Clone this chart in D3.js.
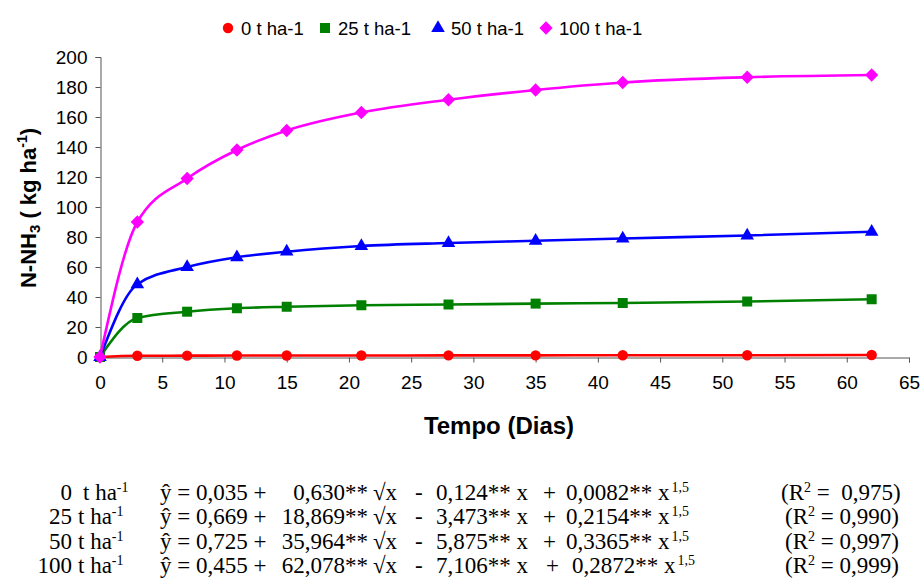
<!DOCTYPE html>
<html>
<head>
<meta charset="utf-8">
<script src="https://cdn.jsdelivr.net/npm/d3@7"></script>
<style>
  html, body { margin: 0; padding: 0; background: #fff; }
  svg { display: block; }
  text { font-family: "Liberation Sans", Arial, sans-serif; fill: #000; }
  .eq text { font-family: "Liberation Serif", "Times New Roman", serif; white-space: pre; }
</style>
</head>
<body>
<svg id="chart" width="921" height="581"></svg>
<script>
// Sampling days
const days = [0, 3, 7, 11, 15, 21, 28, 35, 42, 52, 62];

// N-NH3 (kg ha-1) per manure dose
const dose0   = [0, 0.8, 0.9, 1.0, 1.0, 1.0, 1.1, 1.1, 1.2, 1.2, 1.3];
const dose25  = [0, 26.0, 30.2, 32.5, 33.5, 34.5, 35.0, 35.6, 36.0, 37.0, 38.5];
const dose50  = [0, 48.5, 60.0, 66.5, 70.2, 74.0, 76.0, 77.5, 79.0, 81.0, 83.5];
const dose100 = [0, 90.0, 119.0, 138.0, 151.0, 163.0, 171.5, 178.0, 183.0, 186.5, 188.0];

const seriesNames = ["0 t ha-1", "25 t ha-1", "50 t ha-1", "100 t ha-1"];
const seriesColors = ["#FF0000", "#008000", "#0000FF", "#FF00FF"];

const xTicks = [0, 5, 10, 15, 20, 25, 30, 35, 40, 45, 50, 55, 60, 65];
const yTicks = [0, 20, 40, 60, 80, 100, 120, 140, 160, 180, 200];

// Regression equations shown under the chart
const eqDose   = ["0", "25", "50", "100"];
const eqB0     = ["0,035", "0,669", "0,725", "0,455"];
const eqB1     = ["0,630", "18,869", "35,964", "62,078"];
const eqB2     = ["0,124", "3,473", "5,875", "7,106"];
const eqB3     = ["0,0082", "0,2154", "0,3365", "0,2872"];
const eqR2     = ["0,975", "0,990", "0,997", "0,999"];

const series = [dose0, dose25, dose50, dose100].map((vals, i) => ({
  name: seriesNames[i],
  color: seriesColors[i],
  points: days.map((d, j) => ({ x: d, y: vals[j] }))
}));

const svg = d3.select("#chart");

const x = d3.scaleLinear().domain([0, 65]).range([100, 909]);
const y = d3.scaleLinear().domain([0, 200]).range([357, 57]);

// Axes
const yAxis = svg.append("g")
  .attr("transform", "translate(100.5,0)")
  .call(d3.axisLeft(y).tickValues(yTicks).tickSize(5).tickPadding(8).tickFormat(d3.format("d")));
const xAxis = svg.append("g")
  .attr("transform", "translate(0,357.5)")
  .call(d3.axisBottom(x).tickValues(xTicks).tickSize(5).tickPadding(13).tickFormat(d3.format("d")));

[yAxis, xAxis].forEach(g => {
  g.select(".domain").attr("stroke", "#555").attr("stroke-width", 1);
  g.selectAll(".tick line").attr("stroke", "#555");
  g.selectAll(".tick text").attr("font-size", 19).attr("font-family", "Liberation Sans, Arial, sans-serif").attr("fill", "#000");
});

// Axis titles
svg.append("text")
  .attr("x", 499).attr("y", 434)
  .attr("text-anchor", "middle")
  .attr("font-size", 24).attr("font-weight", "bold")
  .text("Tempo (Dias)");

const yt = svg.append("text")
  .attr("transform", "translate(36,208) rotate(-90)")
  .attr("text-anchor", "middle")
  .attr("font-size", 22).attr("font-weight", "bold");
yt.append("tspan").text("N-NH");
yt.append("tspan").attr("font-size", 15).attr("dy", 4).text("3");
yt.append("tspan").attr("dy", -4).text(" ( kg ha");
yt.append("tspan").attr("font-size", 14).attr("dy", -9).text("-1");
yt.append("tspan").attr("dy", 9).text(")");

// Markers
const symbols = [
  d3.symbol().type(d3.symbolCircle).size(85),
  d3.symbol().type(d3.symbolSquare).size(100),
  d3.symbol().type(d3.symbolTriangle).size(80),
  d3.symbol().type(d3.symbolSquare).size(88)
];
const symbolRotate = [0, 0, 0, 45];

const line = d3.line()
  .x(d => x(d.x)).y(d => y(d.y))
  .curve(d3.curveMonotoneX);

const plot = svg.append("g");
series.forEach((s, i) => {
  const g = plot.append("g");
  g.append("path")
    .datum(s.points)
    .attr("fill", "none")
    .attr("stroke", s.color)
    .attr("stroke-width", 2.6)
    .attr("d", line);
  g.selectAll("path.mk")
    .data(s.points)
    .join("path")
    .attr("class", "mk")
    .attr("d", symbols[i])
    .attr("fill", s.color)
    .attr("transform", d => `translate(${x(d.x)},${y(d.y)}) rotate(${symbolRotate[i]})`);
});

// Legend
const legendX = [228, 325, 438, 546];
const legend = svg.append("g");
series.forEach((s, i) => {
  legend.append("path")
    .attr("d", symbols[i])
    .attr("fill", s.color)
    .attr("transform", `translate(${legendX[i]},28) rotate(${symbolRotate[i]})`);
  legend.append("text")
    .attr("x", legendX[i] + 13).attr("y", 34.5)
    .attr("font-size", 18.5)
    .text(s.name);
});

// Regression equations
const eq = svg.append("g").attr("class", "eq").attr("font-size", 23);
eqDose.forEach((d, i) => {
  const by = 499.5 + i * 24.5;
  const row = eq.append("g");
  row.append("text").attr("x", 72).attr("y", by).attr("text-anchor", "end").text(d);
  const lab = row.append("text").attr("x", i === 0 ? 83 : 78).attr("y", by);
  lab.append("tspan").text("t ha");
  lab.append("tspan").attr("font-size", 14).attr("dy", -8).text("-1");

  row.append("text").attr("x", 160).attr("y", by).text(`ŷ = ${eqB0[i]} +`);
  row.append("text").attr("x", 368).attr("y", by).attr("text-anchor", "end").text(`${eqB1[i]}**`);
  row.append("text").attr("x", 373).attr("y", by).text("√x");
  row.append("text").attr("x", 415).attr("y", by).text("-");
  row.append("text").attr("x", 436).attr("y", by).text(`${eqB2[i]}** x`);
  row.append("text").attr("x", i === 3 ? 546 : 543).attr("y", by).text("+");
  const t3 = row.append("text").attr("x", i === 3 ? 572 : 566).attr("y", by);
  t3.append("tspan").text(`${eqB3[i]}** x`);
  t3.append("tspan").attr("font-size", 14).attr("dy", -8).attr("dx", 2).text("1,5");
  const r2 = row.append("text").attr("x", i === 0 ? 781 : 785).attr("y", by);
  r2.append("tspan").text("(R");
  r2.append("tspan").attr("font-size", 14).attr("dy", -8).text("2");
  r2.append("tspan").attr("dy", 8).text(i === 0 ? " =  " + eqR2[i] + ")" : " = " + eqR2[i] + ")");
});
</script>
</body>
</html>
